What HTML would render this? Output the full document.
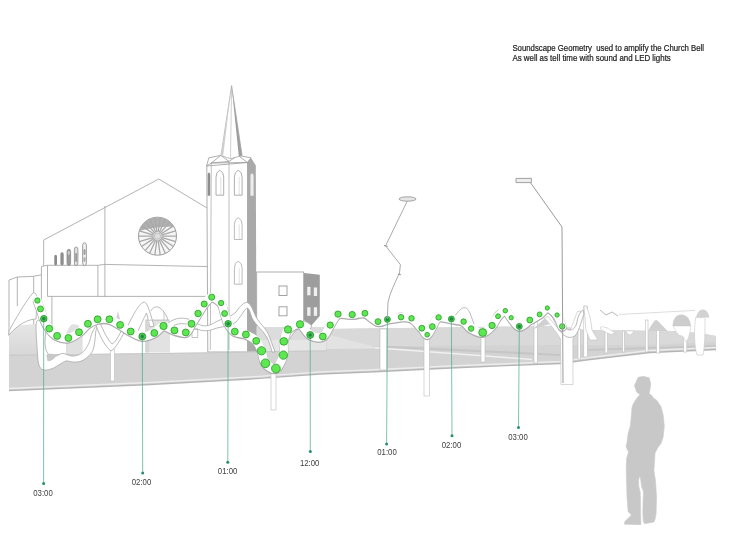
<!DOCTYPE html>
<html><head><meta charset="utf-8"><style>
html,body{margin:0;padding:0;background:#fff;width:730px;height:548px;overflow:hidden}
svg{display:block;font-family:"Liberation Sans",sans-serif;filter:blur(0.5px)}
</style></head><body>
<svg width="730" height="548" viewBox="0 0 730 548">
<g fill="none" stroke="#a0a0a0" stroke-width="0.8">
<path d="M43.7,240 L158.8,179 L208,208.6"/>
<path d="M104.9,206 V296.6"/>
<path d="M43.7,240 V266"/>
<path d="M41.4,266.5 L47.5,265.3 L97.9,265.3 L104.9,264.4 L208,266.6"/>
<path d="M47.5,265.3 V296.4 M97.9,265.3 V296.4 M47.5,296.4 H208"/>
<path d="M51.9,296.4 V332 M41.4,266.5 V332"/>
<path d="M9,280 L17.3,277 L32.9,276.4 L41.4,274.8 M9,280 V336 M17.3,277 V306 M33.7,276.4 V330"/>
</g>
<defs><clipPath id="rc"><circle cx="157.5" cy="236.2" r="19"/></clipPath></defs>
<circle cx="157.5" cy="236.2" r="19" fill="#f6f6f6" stroke="#9a9a9a" stroke-width="1"/>
<g clip-path="url(#rc)">
<path d="M130,236 C140,228 168,225 185,228 L185,200 L130,200 Z" fill="#b0b0b0"/>
<line x1="161.5" y1="236.2" x2="176.5" y2="236.2" stroke="#a8a8a8" stroke-width="1.3"/>
<line x1="161.3" y1="237.3" x2="175.7" y2="241.6" stroke="#a8a8a8" stroke-width="1.3"/>
<line x1="160.9" y1="238.4" x2="173.5" y2="246.5" stroke="#a8a8a8" stroke-width="1.3"/>
<line x1="160.1" y1="239.2" x2="169.9" y2="250.6" stroke="#a8a8a8" stroke-width="1.3"/>
<line x1="159.2" y1="239.8" x2="165.4" y2="253.5" stroke="#a8a8a8" stroke-width="1.3"/>
<line x1="158.1" y1="240.2" x2="160.2" y2="255.0" stroke="#a8a8a8" stroke-width="1.3"/>
<line x1="156.9" y1="240.2" x2="154.8" y2="255.0" stroke="#a8a8a8" stroke-width="1.3"/>
<line x1="155.8" y1="239.8" x2="149.6" y2="253.5" stroke="#a8a8a8" stroke-width="1.3"/>
<line x1="154.9" y1="239.2" x2="145.1" y2="250.6" stroke="#a8a8a8" stroke-width="1.3"/>
<line x1="154.1" y1="238.4" x2="141.5" y2="246.5" stroke="#a8a8a8" stroke-width="1.3"/>
<line x1="153.7" y1="237.3" x2="139.3" y2="241.6" stroke="#a8a8a8" stroke-width="1.3"/>
<line x1="153.5" y1="236.2" x2="138.5" y2="236.2" stroke="#a8a8a8" stroke-width="1.3"/>
<line x1="153.7" y1="235.1" x2="139.3" y2="230.8" stroke="#a8a8a8" stroke-width="1.3"/>
<line x1="154.1" y1="234.0" x2="141.5" y2="225.9" stroke="#a8a8a8" stroke-width="1.3"/>
<line x1="154.9" y1="233.2" x2="145.1" y2="221.8" stroke="#a8a8a8" stroke-width="1.3"/>
<line x1="155.8" y1="232.6" x2="149.6" y2="218.9" stroke="#a8a8a8" stroke-width="1.3"/>
<line x1="156.9" y1="232.2" x2="154.8" y2="217.4" stroke="#a8a8a8" stroke-width="1.3"/>
<line x1="158.1" y1="232.2" x2="160.2" y2="217.4" stroke="#a8a8a8" stroke-width="1.3"/>
<line x1="159.2" y1="232.6" x2="165.4" y2="218.9" stroke="#a8a8a8" stroke-width="1.3"/>
<line x1="160.1" y1="233.2" x2="169.9" y2="221.8" stroke="#a8a8a8" stroke-width="1.3"/>
<line x1="160.9" y1="234.0" x2="173.5" y2="225.9" stroke="#a8a8a8" stroke-width="1.3"/>
<line x1="161.3" y1="235.1" x2="175.7" y2="230.8" stroke="#a8a8a8" stroke-width="1.3"/>
</g>
<circle cx="157.5" cy="236.2" r="3.2" fill="#dedede" stroke="#aaa" stroke-width="0.7"/>
<rect x="54.3" y="254.7" width="2.7" height="10.8" rx="1.4" ry="1.9" fill="#8a8a8a" stroke="none" stroke-width="0.8"/>
<rect x="60.4" y="252.3" width="3.3" height="13.2" rx="1.7" ry="2.3" fill="#8e8e8e" stroke="none" stroke-width="0.8"/>
<rect x="67" y="249.3" width="3.6" height="16.2" rx="1.8" ry="2.5" fill="#9a9a9a" stroke="#8a8a8a" stroke-width="0.8"/>
<rect x="67.8" y="251" width="2.0" height="4.0" rx="1.0" ry="1.4" fill="#d0d0d0" stroke="none" stroke-width="0.8"/>
<rect x="74.4" y="247" width="3.5" height="18.5" rx="1.8" ry="2.4" fill="#e0e0e0" stroke="#8a8a8a" stroke-width="0.8"/>
<rect x="75.2" y="253" width="1.9" height="9.0" rx="0.9" ry="1.3" fill="#9a9a9a" stroke="none" stroke-width="0.8"/>
<rect x="82.6" y="242.8" width="3.8" height="22.7" rx="1.9" ry="2.7" fill="#f0f0f0" stroke="#8a8a8a" stroke-width="0.8"/>
<rect x="83.4" y="249" width="2.2" height="6.0" rx="1.1" ry="1.5" fill="#a0a0a0" stroke="none" stroke-width="0.8"/>
<rect x="83.4" y="257" width="2.2" height="5.0" rx="1.1" ry="1.5" fill="#b0b0b0" stroke="none" stroke-width="0.8"/>
<path d="M206.8,166 L207.8,352 L247.5,352 L247.5,162.5 Z" fill="#fff" stroke="#9a9a9a" stroke-width="0.8"/>
<path d="M247.4,162.5 L251,157.8 L255.8,165.5 L256.5,352 L247.4,352 Z" fill="#a9a9a9"/>
<path d="M211.3,163 L210.3,350 M229,161.4 V350" stroke="#a5a5a5" stroke-width="0.7"/>
<path d="M206.5,166 L208.9,157.8 L220.8,155.4 L229,161.4 L238,155.4 L251,157.8 L247.4,162.5 L238,155.4 M229,161.4 L211.3,163 L220.8,155.4 M211.3,163 L206.5,166 M211.3,163 L247.4,162.5" fill="none" stroke="#9a9a9a" stroke-width="0.8"/>
<path d="M231.6,85.7 L221,155.5 L230.5,158.7 L242.1,155.5 Z" fill="#fff" stroke="#a0a0a0" stroke-width="0.7"/>
<path d="M231.6,85.7 L221,155.5 L223.2,155.8 Z" fill="#cfcfcf"/>
<path d="M231.6,85.7 L238.8,156.2 L242.1,155.5 Z" fill="#9e9e9e"/>
<path d="M231.6,85.7 L230.5,158.7" stroke="#b0b0b0" stroke-width="0.6"/>
<path d="M216,195.2 V177.1 Q216,171.9 219.8,170.2 Q223.7,171.9 223.7,177.1 V195.2 Z" fill="#fff" stroke="#9a9a9a" stroke-width="0.8"/><path d="M220.8,177.1 V195.2" stroke="#c0c0c0" stroke-width="0.5"/>
<path d="M234.4,195.2 V177.1 Q234.4,171.9 238.2,170.2 Q242.1,171.9 242.1,177.1 V195.2 Z" fill="#fff" stroke="#9a9a9a" stroke-width="0.8"/><path d="M239.2,177.1 V195.2" stroke="#c0c0c0" stroke-width="0.5"/>
<path d="M234.4,239.5 V224.5 Q234.4,219.3 238.2,217.6 Q242.1,219.3 242.1,224.5 V239.5 Z" fill="#fff" stroke="#ababab" stroke-width="0.8"/><path d="M239.2,224.5 V239.5" stroke="#c0c0c0" stroke-width="0.5"/>
<path d="M234.4,284.2 V268.1 Q234.4,262.9 238.2,261.2 Q242.1,262.9 242.1,268.1 V284.2 Z" fill="#fff" stroke="#ababab" stroke-width="0.8"/><path d="M239.2,268.1 V284.2" stroke="#c0c0c0" stroke-width="0.5"/>
<path d="M207.7,195.8 V174.8 Q207.7,173.2 208.9,172.6 Q210.2,173.2 210.2,174.8 V195.8 Z" fill="#8c8c8c" stroke="none" stroke-width="0.8"/>
<path d="M250.4,195.8 V176.1 Q250.4,173.9 252.0,173.2 Q253.6,173.9 253.6,176.1 V195.8 Z" fill="#ececec" stroke="none" stroke-width="0.8"/>
<rect x="256.7" y="272" width="47" height="80" fill="#fff" stroke="#9a9a9a" stroke-width="0.8"/>
<path d="M304,273 L319.8,274.8 L319.8,316 L310,327 L304,320 Z" fill="#9d9d9d"/>
<path d="M306,331 L318.6,331 L318.6,342 L306,342 Z" fill="#a8a8a8"/>
<rect x="279" y="286" width="8" height="9.5" fill="none" stroke="#9a9a9a" stroke-width="0.9"/>
<rect x="279" y="306.8" width="8" height="9" fill="none" stroke="#9a9a9a" stroke-width="0.9"/>
<rect x="307.2" y="286.8" width="3.3" height="8.5" fill="#f0f0f0"/>
<rect x="313.8" y="287.5" width="3.3" height="8.5" fill="#f0f0f0"/>
<rect x="307.2" y="307.3" width="3.3" height="8.5" fill="#f0f0f0"/>
<rect x="313.8" y="307.3" width="3.3" height="8.5" fill="#f0f0f0"/>
<defs><linearGradient id="lg1" x1="0" y1="0" x2="0" y2="1"><stop offset="0" stop-color="#e6e6e6"/><stop offset="1" stop-color="#d6d6d6"/></linearGradient></defs>
<path d="M9,326 L36,324 L38,356 L9,357 Z" fill="url(#lg1)"/>
<path d="M66,336 C67,326 77,322 78,330 L78,354 L66,354 Z" fill="#dcdcdc"/>
<path d="M145,319.5 L170,319.5 L170,352.5 L145,352.5 Z" fill="#e2e2e2"/>
<path d="M256.5,327 L329,327 L329,351 L256.5,351 Z" fill="#dcdcdc"/>
<path d="M256.5,340 L329,340 L329,351 L256.5,351 Z" fill="#e6e6e6"/>
<path d="M9,355 L210,352.5 L290,351 L326,350.5 L326.6,329 L560,326 L585,330 L672,331 L700,333 L716,336 L716,349 L650,352 L590,359 L560,363 L450,367.5 L380,371 L320,373.5 L250,378.5 L150,384 L9,390 Z" fill="#d3d3d3"/>
<path d="M9,355.3 L210,352.8 L290,351.3 L326,350.8" fill="none" stroke="#c6c6c6" stroke-width="0.9"/>
<path d="M326.6,329 L560,326 L585,330 L672,331 L700,333 L716,336 L716,342 L650,345 L560,345 L420,346 L326.6,346 Z" fill="#d9d9d9"/>
<path d="M326.6,334 L381,348.5 L326.6,349 Z" fill="#e2e2e2"/>
<path d="M381,346.5 L560,355 M585,350 L716,346" stroke="#c6c6c6" stroke-width="2.2"/>
<path d="M375,347.8 L532,359.5" stroke="#f0f0f0" stroke-width="1.5"/>
<path d="M9,388.5 L150,382.5 L250,377 L320,372 L380,369.5 L450,366 L560,361.5 L590,357.5 L650,350.5 L716,347.5" fill="none" stroke="#ececec" stroke-width="1.4"/>
<path d="M9,390.5 L150,384.5 L250,379 L320,374 L380,371.5 L450,368 L560,363.5 L590,359.5 L650,352.5 L716,349.5" fill="none" stroke="#b5b5b5" stroke-width="1.3"/>
<rect x="110.4" y="349" width="4.1" height="32.0" fill="#fff" stroke="#bdbdbd" stroke-width="0.6"/>
<rect x="271" y="372" width="5.0" height="38.0" fill="#fff" stroke="#bdbdbd" stroke-width="0.6"/>
<rect x="380" y="329" width="6.8" height="41.0" fill="#fff" stroke="#bdbdbd" stroke-width="0.6"/>
<rect x="424" y="336" width="5.4" height="60.0" fill="#fff" stroke="#bdbdbd" stroke-width="0.6"/>
<rect x="481" y="332" width="4.0" height="30.0" fill="#fff" stroke="#bdbdbd" stroke-width="0.6"/>
<rect x="534" y="320" width="3.4" height="43.0" fill="#fff" stroke="#bdbdbd" stroke-width="0.6"/>
<rect x="578" y="329" width="2.5" height="30.0" fill="#fff" stroke="#bdbdbd" stroke-width="0.6"/>
<rect x="583.8" y="306" width="3.7" height="51.0" fill="#fff" stroke="#bdbdbd" stroke-width="0.6"/>
<rect x="605" y="328" width="2.6" height="25.0" fill="#fff" stroke="#bdbdbd" stroke-width="0.6"/>
<rect x="622.4" y="331" width="2.2" height="21.0" fill="#fff" stroke="#bdbdbd" stroke-width="0.6"/>
<rect x="645.4" y="320" width="2.6" height="32.0" fill="#fff" stroke="#bdbdbd" stroke-width="0.6"/>
<rect x="656.4" y="330" width="3.3" height="23.0" fill="#fff" stroke="#bdbdbd" stroke-width="0.6"/>
<rect x="683.5" y="330" width="3.3" height="22.0" fill="#fff" stroke="#bdbdbd" stroke-width="0.6"/>
<path d="M544,318.5 C550,324 556,331 560.5,339 L561,384.5 L573,384.5 L572.8,340 C575,330 578,318 581,311 L577.5,311.5 C574,320 571,330 567,336 C562,334 556,326 548,316.5 Z" fill="#fff" stroke="#bdbdbd" stroke-width="0.6"/>
<path d="M648,331 C651,326 654,320 656,320 C659,321 663,327 668,331 Z" fill="#d0d0d0"/>
<path d="M672.5,326 C673,318 677,314.5 681,314.5 C686,314.5 690,318 691,326 Z" fill="#cdcdcd"/>
<path d="M673,326 L691,326 C690,334 688,340 686,342 C684,338 682,334 680,336 C678,334 675,331 673,326 Z" fill="#fff" stroke="#c4c4c4" stroke-width="0.5"/>
<path d="M696,317.6 C697,312 700,309.4 703,309.4 C706,309.6 708.5,312 709.4,317.6 Z" fill="#d2d2d2"/>
<path d="M619,314.5 L695,310.4" stroke="#d4d4d4" stroke-width="0.8"/>
<path d="M600.5,327 C604,326 610,329 615,333 L611,334.5 C607,333 603,331 600.5,329 Z" fill="#fff" stroke="#c0c0c0" stroke-width="0.5"/>
<path d="M626,331 C628,336 632,336 633.4,331 Z" fill="#fff" stroke="#c4c4c4" stroke-width="0.5"/>
<path d="M695.5,317.6 C694,330 694,345 697,355 L703,355 C705,345 705,330 705,317.6 Z" fill="#fff" stroke="#c8c8c8" stroke-width="0.6"/>
<path d="M584,306 C586,304 590,312 592,330 L598,340 L590,340 L586,330 Z" fill="#fff" stroke="#c0c0c0" stroke-width="0.6"/>
<path d="M600,310 L606,315 L612,312 L618,316" fill="none" stroke="#b0b0b0" stroke-width="0.9"/>
<path d="M9,331 C15,320 25,302 33,292.8 C35.5,292 37,295 37,300 L36,319 C29,319 18,324 9,335 Z" fill="#fff" stroke="#a8a8a8" stroke-width="0.8"/>
<path d="M67.3,354 L67.3,331.4 C69,326 72,324.3 73.8,324.3 C78,324.5 82,327 82.6,331 L82.6,354.5 Z" fill="#e0e0e0"/>
<path d="M36.6,321.6 C35.2,325.2 36.7,340.8 37.1,347.9 C37.5,355.0 37.8,360.6 38.8,364.3 C39.8,368.0 41.0,369.1 43.2,369.8 C45.4,370.5 49.1,369.7 52.0,368.7 C54.9,367.7 58.3,365.1 60.7,363.8 C63.1,362.5 64.0,361.3 66.2,361.0 C68.4,360.7 71.2,362.1 73.8,362.1 C76.3,362.1 79.1,361.9 81.5,361.0 C83.9,360.1 86.2,358.2 88.0,356.6 C89.8,355.0 91.4,353.6 92.5,351.2 C93.6,348.8 94.2,345.7 94.7,342.4 C95.2,339.1 95.3,334.2 95.8,331.4 C96.3,328.6 97.8,326.1 97.6,325.5 C97.4,324.9 95.7,326.5 94.7,328.0 C93.7,329.5 92.3,332.3 91.4,334.7 C90.5,337.1 90.3,339.8 89.2,342.4 C88.1,344.9 86.5,348.0 84.8,350.0 C83.1,352.0 81.5,353.5 79.3,354.5 C77.1,355.5 74.3,356.2 71.6,356.0 C68.9,355.8 65.3,353.5 62.9,353.4 C60.5,353.3 59.2,354.9 57.4,355.5 C55.6,356.1 53.7,357.6 52.0,357.0 C50.3,356.4 48.2,354.3 47.0,352.0 C45.8,349.7 45.3,347.3 45.0,343.0 C44.7,338.7 46.7,329.6 45.3,326.0 C43.9,322.4 38.0,318.0 36.6,321.6 Z" fill="#fff" stroke="#a8a8a8" stroke-width="0.8"/>
<path d="M46.4,355 C48,353 52,353.5 56.3,355 C55,359 51,361.5 47.5,361 Z" fill="#c8c8c8"/>
<path d="M95,322 C98,332 104,346 111,351 C116,348 120,340 125,331 L122,329 C119,336 115,343 112,344 C108,340 103,331 100,322 Z" fill="#fff" stroke="#a8a8a8" stroke-width="0.8"/>
<path d="M124,333 C130,322 138,303 144.3,302 C148,303 151,316 154,326 L150,327 C148,320 147,314 146.5,313 C144,318 140,326 137,334 Z" fill="#fff" stroke="#a8a8a8" stroke-width="0.8"/>
<path d="M151,311 C153,307 155.5,306.8 157.5,307 C161,307.5 165,312 168,320" fill="none" stroke="#a8a8a8" stroke-width="0.8"/>
<path d="M145.4,320.2 H169 M164,312 V320.2" fill="none" stroke="#b4b4b4" stroke-width="0.7"/>
<rect x="145.4" y="320.5" width="3.8" height="32" fill="#d6d6d6"/>
<path d="M116,319.5 L118,311 L120,319.5 Z" fill="#d0d0d0"/>
<path d="M168,323 C175,318 183,316 193,321 C200,326 206,328 214,323 C222,318 230,318 236,312 C240,306 244,302 247.4,302.5 C252,304 254,315 258,320 C262,326 266,328 270,338 C272,344 274,349 275,352 L272,352 C270,344 268,338 264,333 C260,328 256,325 252,318 C250,312 249,308 247,308 C244,310 240,318 236,322 C230,327 222,326 214,329 C206,332 200,331 193,327 C185,322 178,323 170,327 Z" fill="#fff" stroke="#a8a8a8" stroke-width="0.8"/>
<rect x="192" y="329.3" width="5.8" height="8.2" fill="none" stroke="#aaa" stroke-width="0.7"/>
<path d="M283,341 C287,335 292,327 300,322 C304,320 308,322 312,326 L310,329 C306,326 303,325 300,327 C294,331 290,338 286,345 Z" fill="#fff" stroke="#a8a8a8" stroke-width="0.8"/>
<path d="M330,322 C334,314 340,309 346,311 C352,314 356,317 362,312 C368,308 372,316 378,319 C384,323 392,314 400,313" fill="none" stroke="#a8a8a8" stroke-width="0.8"/>
<path d="M400,313 C410,313 416,320 422,330 L427,337" fill="none" stroke="#a8a8a8" stroke-width="0.8"/>
<path d="M455,316 C462,306 466,305 470,313 L474,324" fill="none" stroke="#a8a8a8" stroke-width="0.8"/>
<path d="M493,316 C497,309 499,309 502,312" fill="none" stroke="#a8a8a8" stroke-width="0.8"/>
<path d="M547,308 C552,306 556,310 560,320 C566,334 575,332 577,322 C578,316 580,312 583,310 L584,314 C582,318 580,330 575,336 C568,340 562,335 558,328 C554,320 551,314 547,312 Z" fill="#fff" stroke="#a8a8a8" stroke-width="0.8"/>
<path d="M533,329 L545,318 L550,324 Z" fill="#d0d0d0"/>
<path d="M37.4,300.5 C37.9,301.9 39.4,305.9 40.5,308.9 C41.6,311.9 42.3,315.4 43.8,318.7 C45.2,322.0 47.0,325.7 49.2,328.6 C51.4,331.5 53.9,334.3 57.1,335.9 C60.3,337.5 64.8,338.6 68.4,338.0 C72.1,337.4 75.8,334.6 79.0,332.2 C82.2,329.8 84.8,325.9 87.9,323.8 C91.0,321.7 94.0,320.1 97.6,319.3 C101.2,318.6 105.7,318.4 109.4,319.3 C113.2,320.2 116.5,322.9 120.1,324.9 C123.6,326.9 127.0,329.6 130.7,331.5 C134.4,333.4 138.4,336.2 142.3,336.5 C146.2,336.8 150.8,334.8 154.3,333.0 C157.8,331.2 160.2,326.4 163.5,326.0 C166.8,325.6 170.7,329.3 174.4,330.4 C178.1,331.5 183.0,333.6 185.8,332.5 C188.7,331.4 189.4,327.0 191.5,323.8 C193.6,320.6 196.0,316.8 198.1,313.5 C200.2,310.2 201.9,306.7 204.2,304.0 C206.5,301.3 208.9,297.4 211.7,297.2 C214.5,297.0 218.9,300.3 221.1,303.0 C223.2,305.7 223.4,310.1 224.6,313.5 C225.8,316.9 226.4,320.7 228.1,323.7 C229.8,326.7 231.8,329.8 234.8,331.6 C237.8,333.4 242.3,332.9 245.9,334.5 C249.5,336.1 253.6,338.2 256.2,340.9 C258.8,343.6 260.0,347.1 261.5,350.8 C263.0,354.5 263.0,360.4 265.4,363.3 C267.8,366.2 272.9,369.9 275.9,368.5 C278.9,367.1 282.0,359.6 283.3,355.1 C284.6,350.6 283.0,345.7 283.8,341.4 C284.6,337.1 285.3,332.4 288.0,329.5 C290.7,326.6 296.3,323.4 300.0,324.3 C303.7,325.2 306.4,333.0 310.2,335.0 C314.0,337.0 319.5,338.1 322.8,336.5 C326.1,334.9 327.7,328.8 330.2,325.1 C332.7,321.4 334.3,315.9 338.0,314.1 C341.7,312.4 347.7,314.7 352.2,314.6 C356.7,314.5 360.6,312.1 364.9,313.3 C369.2,314.5 374.2,320.6 378.0,321.6 C381.8,322.6 383.6,320.1 387.4,319.4 C391.2,318.7 397.0,317.4 401.0,317.2 C405.0,317.0 408.0,316.5 411.5,318.3 C415.0,320.1 419.2,325.5 421.8,328.2 C424.4,330.9 425.4,335.0 427.2,334.7 C428.9,334.4 430.4,329.5 432.3,326.6 C434.2,323.7 435.4,318.7 438.6,317.4 C441.8,316.1 447.2,318.3 451.4,319.0 C455.6,319.7 460.3,320.0 463.6,321.6 C466.9,323.2 467.9,326.8 471.1,328.6 C474.3,330.4 479.2,333.0 482.7,332.5 C486.2,332.0 489.6,328.2 492.1,325.5 C494.7,322.8 495.8,318.8 498.0,316.3 C500.2,313.8 503.1,310.5 505.3,310.7 C507.5,310.9 508.9,315.1 511.2,317.7 C513.5,320.3 516.2,326.0 519.3,326.4 C522.4,326.8 526.4,322.0 529.8,320.0 C533.2,318.0 536.7,316.4 539.6,314.4 C542.5,312.4 544.4,307.9 547.3,308.0 C550.2,308.1 554.6,311.9 557.1,315.0 C559.6,318.1 561.4,324.5 562.2,326.4" fill="none" stroke="#acacac" stroke-width="9.2" stroke-linecap="round" transform="translate(0,0.9)"/>
<path d="M37.4,300.5 C37.9,301.9 39.4,305.9 40.5,308.9 C41.6,311.9 42.3,315.4 43.8,318.7 C45.2,322.0 47.0,325.7 49.2,328.6 C51.4,331.5 53.9,334.3 57.1,335.9 C60.3,337.5 64.8,338.6 68.4,338.0 C72.1,337.4 75.8,334.6 79.0,332.2 C82.2,329.8 84.8,325.9 87.9,323.8 C91.0,321.7 94.0,320.1 97.6,319.3 C101.2,318.6 105.7,318.4 109.4,319.3 C113.2,320.2 116.5,322.9 120.1,324.9 C123.6,326.9 127.0,329.6 130.7,331.5 C134.4,333.4 138.4,336.2 142.3,336.5 C146.2,336.8 150.8,334.8 154.3,333.0 C157.8,331.2 160.2,326.4 163.5,326.0 C166.8,325.6 170.7,329.3 174.4,330.4 C178.1,331.5 183.0,333.6 185.8,332.5 C188.7,331.4 189.4,327.0 191.5,323.8 C193.6,320.6 196.0,316.8 198.1,313.5 C200.2,310.2 201.9,306.7 204.2,304.0 C206.5,301.3 208.9,297.4 211.7,297.2 C214.5,297.0 218.9,300.3 221.1,303.0 C223.2,305.7 223.4,310.1 224.6,313.5 C225.8,316.9 226.4,320.7 228.1,323.7 C229.8,326.7 231.8,329.8 234.8,331.6 C237.8,333.4 242.3,332.9 245.9,334.5 C249.5,336.1 253.6,338.2 256.2,340.9 C258.8,343.6 260.0,347.1 261.5,350.8 C263.0,354.5 263.0,360.4 265.4,363.3 C267.8,366.2 272.9,369.9 275.9,368.5 C278.9,367.1 282.0,359.6 283.3,355.1 C284.6,350.6 283.0,345.7 283.8,341.4 C284.6,337.1 285.3,332.4 288.0,329.5 C290.7,326.6 296.3,323.4 300.0,324.3 C303.7,325.2 306.4,333.0 310.2,335.0 C314.0,337.0 319.5,338.1 322.8,336.5 C326.1,334.9 327.7,328.8 330.2,325.1 C332.7,321.4 334.3,315.9 338.0,314.1 C341.7,312.4 347.7,314.7 352.2,314.6 C356.7,314.5 360.6,312.1 364.9,313.3 C369.2,314.5 374.2,320.6 378.0,321.6 C381.8,322.6 383.6,320.1 387.4,319.4 C391.2,318.7 397.0,317.4 401.0,317.2 C405.0,317.0 408.0,316.5 411.5,318.3 C415.0,320.1 419.2,325.5 421.8,328.2 C424.4,330.9 425.4,335.0 427.2,334.7 C428.9,334.4 430.4,329.5 432.3,326.6 C434.2,323.7 435.4,318.7 438.6,317.4 C441.8,316.1 447.2,318.3 451.4,319.0 C455.6,319.7 460.3,320.0 463.6,321.6 C466.9,323.2 467.9,326.8 471.1,328.6 C474.3,330.4 479.2,333.0 482.7,332.5 C486.2,332.0 489.6,328.2 492.1,325.5 C494.7,322.8 495.8,318.8 498.0,316.3 C500.2,313.8 503.1,310.5 505.3,310.7 C507.5,310.9 508.9,315.1 511.2,317.7 C513.5,320.3 516.2,326.0 519.3,326.4 C522.4,326.8 526.4,322.0 529.8,320.0 C533.2,318.0 536.7,316.4 539.6,314.4 C542.5,312.4 544.4,307.9 547.3,308.0 C550.2,308.1 554.6,311.9 557.1,315.0 C559.6,318.1 561.4,324.5 562.2,326.4" fill="none" stroke="#fff" stroke-width="8.4" stroke-linecap="round"/>
<line x1="43.7" y1="318.7" x2="43.6" y2="483.6" stroke="#45ab8d" stroke-width="0.7"/>
<line x1="142.3" y1="336.5" x2="142.7" y2="472.9" stroke="#45ab8d" stroke-width="0.7"/>
<line x1="228.1" y1="323.7" x2="227.8" y2="462.2" stroke="#45ab8d" stroke-width="0.7"/>
<line x1="310.2" y1="335.0" x2="310.3" y2="451.6" stroke="#45ab8d" stroke-width="0.7"/>
<line x1="387.4" y1="319.4" x2="386.6" y2="443.9" stroke="#45ab8d" stroke-width="0.7"/>
<line x1="451.4" y1="319.0" x2="452.0" y2="435.8" stroke="#45ab8d" stroke-width="0.7"/>
<line x1="519.3" y1="326.4" x2="518.5" y2="427.6" stroke="#45ab8d" stroke-width="0.7"/>
<circle cx="37.4" cy="300.5" r="2.65" fill="#5ce84e" stroke="#34a234" stroke-width="0.9"/>
<circle cx="40.5" cy="308.9" r="2.95" fill="#5ce84e" stroke="#34a234" stroke-width="0.9"/>
<circle cx="43.8" cy="318.7" r="3.25" fill="#45c84e" stroke="#2f9a38" stroke-width="0.9"/>
<circle cx="43.8" cy="318.7" r="1.7" fill="#1d8a40"/>
<circle cx="49.2" cy="328.6" r="3.45" fill="#5ce84e" stroke="#34a234" stroke-width="0.9"/>
<circle cx="57.1" cy="335.9" r="3.45" fill="#5ce84e" stroke="#34a234" stroke-width="0.9"/>
<circle cx="68.4" cy="338" r="3.45" fill="#5ce84e" stroke="#34a234" stroke-width="0.9"/>
<circle cx="79" cy="332.2" r="3.45" fill="#5ce84e" stroke="#34a234" stroke-width="0.9"/>
<circle cx="87.9" cy="323.8" r="3.45" fill="#5ce84e" stroke="#34a234" stroke-width="0.9"/>
<circle cx="97.6" cy="319.3" r="3.45" fill="#5ce84e" stroke="#34a234" stroke-width="0.9"/>
<circle cx="109.4" cy="319.3" r="3.45" fill="#5ce84e" stroke="#34a234" stroke-width="0.9"/>
<circle cx="120.1" cy="324.9" r="3.45" fill="#5ce84e" stroke="#34a234" stroke-width="0.9"/>
<circle cx="130.7" cy="331.5" r="3.45" fill="#5ce84e" stroke="#34a234" stroke-width="0.9"/>
<circle cx="142.3" cy="336.5" r="3.45" fill="#45c84e" stroke="#2f9a38" stroke-width="0.9"/>
<circle cx="142.3" cy="336.5" r="1.7" fill="#1d8a40"/>
<circle cx="154.3" cy="333" r="3.45" fill="#5ce84e" stroke="#34a234" stroke-width="0.9"/>
<circle cx="163.5" cy="326" r="3.65" fill="#5ce84e" stroke="#34a234" stroke-width="0.9"/>
<circle cx="174.4" cy="330.4" r="3.45" fill="#5ce84e" stroke="#34a234" stroke-width="0.9"/>
<circle cx="185.8" cy="332.5" r="3.45" fill="#5ce84e" stroke="#34a234" stroke-width="0.9"/>
<circle cx="191.5" cy="323.8" r="3.45" fill="#5ce84e" stroke="#34a234" stroke-width="0.9"/>
<circle cx="198.1" cy="313.5" r="3.25" fill="#5ce84e" stroke="#34a234" stroke-width="0.9"/>
<circle cx="204.2" cy="304" r="3.05" fill="#5ce84e" stroke="#34a234" stroke-width="0.9"/>
<circle cx="211.7" cy="297.2" r="3.05" fill="#5ce84e" stroke="#34a234" stroke-width="0.9"/>
<circle cx="221.1" cy="303" r="2.65" fill="#5ce84e" stroke="#34a234" stroke-width="0.9"/>
<circle cx="224.6" cy="313.5" r="2.95" fill="#5ce84e" stroke="#34a234" stroke-width="0.9"/>
<circle cx="228.1" cy="323.7" r="3.25" fill="#45c84e" stroke="#2f9a38" stroke-width="0.9"/>
<circle cx="228.1" cy="323.7" r="1.7" fill="#1d8a40"/>
<circle cx="234.8" cy="331.6" r="3.45" fill="#5ce84e" stroke="#34a234" stroke-width="0.9"/>
<circle cx="245.9" cy="334.5" r="3.45" fill="#5ce84e" stroke="#34a234" stroke-width="0.9"/>
<circle cx="256.2" cy="340.9" r="3.45" fill="#5ce84e" stroke="#34a234" stroke-width="0.9"/>
<circle cx="261.5" cy="350.8" r="4.15" fill="#5ce84e" stroke="#34a234" stroke-width="0.9"/>
<circle cx="265.4" cy="363.3" r="4.35" fill="#5ce84e" stroke="#34a234" stroke-width="0.9"/>
<circle cx="275.9" cy="368.5" r="4.35" fill="#5ce84e" stroke="#34a234" stroke-width="0.9"/>
<circle cx="283.3" cy="355.1" r="4.15" fill="#5ce84e" stroke="#34a234" stroke-width="0.9"/>
<circle cx="283.8" cy="341.4" r="3.85" fill="#5ce84e" stroke="#34a234" stroke-width="0.9"/>
<circle cx="288" cy="329.5" r="3.65" fill="#5ce84e" stroke="#34a234" stroke-width="0.9"/>
<circle cx="300" cy="324.3" r="3.65" fill="#5ce84e" stroke="#34a234" stroke-width="0.9"/>
<circle cx="310.2" cy="335" r="3.45" fill="#45c84e" stroke="#2f9a38" stroke-width="0.9"/>
<circle cx="310.2" cy="335" r="1.7" fill="#1d8a40"/>
<circle cx="322.8" cy="336.5" r="3.45" fill="#5ce84e" stroke="#34a234" stroke-width="0.9"/>
<circle cx="330.2" cy="325.1" r="3.15" fill="#5ce84e" stroke="#34a234" stroke-width="0.9"/>
<circle cx="338" cy="314.1" r="3.15" fill="#5ce84e" stroke="#34a234" stroke-width="0.9"/>
<circle cx="352.2" cy="314.6" r="3.15" fill="#5ce84e" stroke="#34a234" stroke-width="0.9"/>
<circle cx="364.9" cy="313.3" r="2.95" fill="#5ce84e" stroke="#34a234" stroke-width="0.9"/>
<circle cx="378" cy="321.6" r="2.95" fill="#5ce84e" stroke="#34a234" stroke-width="0.9"/>
<circle cx="387.4" cy="319.4" r="2.95" fill="#45c84e" stroke="#2f9a38" stroke-width="0.9"/>
<circle cx="387.4" cy="319.4" r="1.7" fill="#1d8a40"/>
<circle cx="401" cy="317.2" r="2.75" fill="#5ce84e" stroke="#34a234" stroke-width="0.9"/>
<circle cx="411.5" cy="318.3" r="2.75" fill="#5ce84e" stroke="#34a234" stroke-width="0.9"/>
<circle cx="421.8" cy="328.2" r="2.95" fill="#5ce84e" stroke="#34a234" stroke-width="0.9"/>
<circle cx="427.2" cy="334.7" r="2.35" fill="#5ce84e" stroke="#34a234" stroke-width="0.9"/>
<circle cx="432.3" cy="326.6" r="2.95" fill="#5ce84e" stroke="#34a234" stroke-width="0.9"/>
<circle cx="438.6" cy="317.4" r="2.75" fill="#5ce84e" stroke="#34a234" stroke-width="0.9"/>
<circle cx="451.4" cy="319" r="2.95" fill="#45c84e" stroke="#2f9a38" stroke-width="0.9"/>
<circle cx="451.4" cy="319" r="1.7" fill="#1d8a40"/>
<circle cx="463.6" cy="321.6" r="2.75" fill="#5ce84e" stroke="#34a234" stroke-width="0.9"/>
<circle cx="471.1" cy="328.6" r="2.75" fill="#5ce84e" stroke="#34a234" stroke-width="0.9"/>
<circle cx="482.7" cy="332.5" r="3.95" fill="#5ce84e" stroke="#34a234" stroke-width="0.9"/>
<circle cx="492.1" cy="325.5" r="3.15" fill="#5ce84e" stroke="#34a234" stroke-width="0.9"/>
<circle cx="498" cy="316.3" r="2.45" fill="#5ce84e" stroke="#34a234" stroke-width="0.9"/>
<circle cx="505.3" cy="310.7" r="2.25" fill="#5ce84e" stroke="#34a234" stroke-width="0.9"/>
<circle cx="511.2" cy="317.7" r="2.15" fill="#5ce84e" stroke="#34a234" stroke-width="0.9"/>
<circle cx="519.3" cy="326.4" r="2.95" fill="#45c84e" stroke="#2f9a38" stroke-width="0.9"/>
<circle cx="519.3" cy="326.4" r="1.7" fill="#1d8a40"/>
<circle cx="529.8" cy="320" r="2.95" fill="#5ce84e" stroke="#34a234" stroke-width="0.9"/>
<circle cx="539.6" cy="314.4" r="2.45" fill="#5ce84e" stroke="#34a234" stroke-width="0.9"/>
<circle cx="547.3" cy="308" r="2.15" fill="#5ce84e" stroke="#34a234" stroke-width="0.9"/>
<circle cx="557.1" cy="315" r="2.15" fill="#5ce84e" stroke="#34a234" stroke-width="0.9"/>
<circle cx="562.2" cy="326.4" r="2.75" fill="#5ce84e" stroke="#34a234" stroke-width="0.9"/>
<circle cx="43.6" cy="483.6" r="1.5" fill="#2a8f6c"/>
<text x="43.0" y="495.5" text-anchor="middle" font-size="8.6" fill="#404040" textLength="19.5" lengthAdjust="spacingAndGlyphs">03:00</text>
<circle cx="142.7" cy="472.9" r="1.5" fill="#2a8f6c"/>
<text x="141.5" y="484.8" text-anchor="middle" font-size="8.6" fill="#404040" textLength="19.5" lengthAdjust="spacingAndGlyphs">02:00</text>
<circle cx="227.8" cy="462.2" r="1.5" fill="#2a8f6c"/>
<text x="227.6" y="474.0" text-anchor="middle" font-size="8.6" fill="#404040" textLength="19.5" lengthAdjust="spacingAndGlyphs">01:00</text>
<circle cx="310.3" cy="451.6" r="1.5" fill="#2a8f6c"/>
<text x="309.7" y="465.5" text-anchor="middle" font-size="8.6" fill="#404040" textLength="19.5" lengthAdjust="spacingAndGlyphs">12:00</text>
<circle cx="386.6" cy="443.9" r="1.5" fill="#2a8f6c"/>
<text x="387.0" y="455.2" text-anchor="middle" font-size="8.6" fill="#404040" textLength="19.5" lengthAdjust="spacingAndGlyphs">01:00</text>
<circle cx="452.0" cy="435.8" r="1.5" fill="#2a8f6c"/>
<text x="451.5" y="447.8" text-anchor="middle" font-size="8.6" fill="#404040" textLength="19.5" lengthAdjust="spacingAndGlyphs">02:00</text>
<circle cx="518.5" cy="427.6" r="1.5" fill="#2a8f6c"/>
<text x="518.0" y="439.5" text-anchor="middle" font-size="8.6" fill="#404040" textLength="19.5" lengthAdjust="spacingAndGlyphs">03:00</text>
<path d="M407.3,201 L385.6,245.8 L400.4,264.7 L399.5,273 C395,283 390,292 388,302.5 L387.3,319" fill="none" stroke="#a0a0a0" stroke-width="0.9"/>
<path d="M384,245.5 L387.5,246.3 M398.2,274.2 L400.8,274.6" stroke="#999" stroke-width="1.2"/>
<ellipse cx="407.5" cy="199" rx="8.5" ry="2.2" fill="#e6e6e6" stroke="#999" stroke-width="0.9"/>
<path d="M529.3,181 L562,227 L563,383" fill="none" stroke="#9a9a9a" stroke-width="1"/>
<path d="M516,178.4 L531.4,178.4 L531.4,182.6 L516,182.6 Z" fill="#eee" stroke="#999" stroke-width="0.9"/>
<path d="M638.2,377.3 L643.5,376.3 L649.2,377.8 L650.8,383.7 L650.1,389.2 L649.2,393.7 L652.0,395.5 L652.8,397.4 L656.5,400.1 L661.0,406.5 L663.2,415.0 L664.3,426.0 L663.2,436.9 L661.0,443.5 L657.7,447.8 L655.0,453.3 L654.4,464.3 L653.9,470.0 L655.5,481.0 L656.6,497.4 L656.1,513.8 L655.0,519.5 L653.9,522.0 L644.6,523.8 L643.3,521.5 L642.8,513.8 L643.0,502.8 L643.5,491.9 L641.5,486.4 L640.5,478.0 L639.5,476.6 L638.6,480.0 L638.8,486.4 L640.2,492.0 L640.5,502.8 L640.6,513.8 L640.9,522.6 L640.8,524.7 L624.3,524.2 L624.8,521.5 L629.0,517.5 L631.4,514.9 L628.1,511.6 L627.0,497.4 L626.5,481.0 L626.2,470.0 L626.5,458.8 L628.5,452.0 L626.0,446.8 L627.0,442.4 L628.1,433.6 L630.3,426.0 L631.4,415.0 L631.9,408.0 L632.8,404.7 L635.5,400.1 L638.5,396.0 L640.0,394.6 L636.4,391.9 L635.5,388.5 L634.4,385.5 L636.0,382.0 L637.3,379.1 Z" fill="#c8c8c8" stroke="#cdcdcd" stroke-width="0.6" stroke-linejoin="round"/>
<text x="512.4" y="51.2" font-size="8.6" fill="#222" stroke="#222" stroke-width="0.22" textLength="191.6" lengthAdjust="spacingAndGlyphs" xml:space="preserve">Soundscape Geometry  used to amplify the Church Bell</text>
<text x="512.4" y="61.2" font-size="8.6" fill="#222" stroke="#222" stroke-width="0.22" textLength="158.4" lengthAdjust="spacingAndGlyphs">As well as tell time with sound and LED lights</text>
</svg>
</body></html>
